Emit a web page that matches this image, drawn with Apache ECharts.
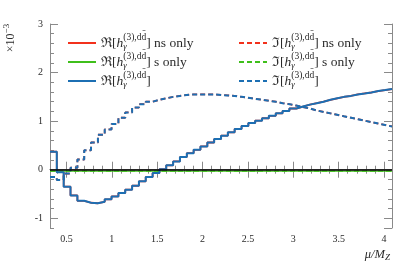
<!DOCTYPE html>
<html><head><meta charset="utf-8">
<script src="https://cdn.jsdelivr.net/npm/echarts@6/dist/echarts.min.js"></script>
<style>html,body{margin:0;padding:0;background:#fff}#c{width:405px;height:263px}</style>
</head><body><div id="c"></div>
<script>
// bin edges of mu/M_Z (50 bins)
const binEdges = [0.319,0.394,0.470,0.545,0.621,0.696,0.771,0.847,0.922,0.997,
  1.073,1.148,1.224,1.299,1.374,1.450,1.525,1.600,1.676,1.751,
  1.827,1.902,1.977,2.053,2.128,2.204,2.279,2.354,2.430,2.505,
  2.580,2.656,2.731,2.807,2.882,2.957,3.033,3.108,3.183,3.259,
  3.334,3.410,3.485,3.560,3.636,3.711,3.787,3.862,3.937,4.013,4.088];

// values in units of 1e-3, one per bin
const reTotal = [0.37,-0.05,-0.35,-0.53,-0.64,-0.68,-0.69,-0.66,-0.61,-0.55,
  -0.48,-0.41,-0.33,-0.24,-0.15,-0.07,0.01,0.09,0.17,0.26,
  0.34,0.41,0.48,0.56,0.63,0.70,0.77,0.84,0.90,0.96,
  1.01,1.06,1.11,1.16,1.21,1.26,1.30,1.34,1.37,1.40,
  1.44,1.47,1.50,1.52,1.55,1.57,1.59,1.62,1.64,1.66];
const reNsOnly = [0.37,-0.05,-0.35,-0.53,-0.64,-0.68,-0.69,-0.66,-0.61,-0.55,
  -0.48,-0.41,-0.33,-0.24,-0.15,-0.07,0.01,0.09,0.17,0.26,
  0.34,0.41,0.48,0.56,0.63,0.70,0.77,0.84,0.90,0.96,
  1.01,1.06,1.11,1.16,1.21,1.26,1.30,1.34,1.37,1.40,
  1.44,1.47,1.50,1.52,1.55,1.57,1.59,1.62,1.64,1.66];
const reSOnly = [-0.03,-0.03,-0.03,-0.03,-0.03,-0.03,-0.03,-0.03,-0.03,-0.03,
  -0.03,-0.03,-0.03,-0.03,-0.03,-0.03,-0.03,-0.03,-0.03,-0.03,
  -0.03,-0.03,-0.03,-0.03,-0.03,-0.03,-0.03,-0.03,-0.03,-0.03,
  -0.03,-0.03,-0.03,-0.03,-0.03,-0.03,-0.03,-0.03,-0.03,-0.03,
  -0.03,-0.03,-0.03,-0.03,-0.03,-0.03,-0.03,-0.03,-0.03,-0.03];
const imTotal = [-0.15,-0.21,-0.08,0.04,0.21,0.40,0.56,0.72,0.83,0.94,
  1.07,1.18,1.28,1.35,1.40,1.44,1.47,1.50,1.52,1.54,
  1.55,1.55,1.55,1.55,1.54,1.53,1.52,1.50,1.48,1.46,
  1.44,1.42,1.40,1.37,1.35,1.32,1.29,1.26,1.22,1.19,
  1.16,1.13,1.10,1.07,1.04,1.01,0.98,0.95,0.92,0.89];
const imNsOnly = [-0.15,-0.21,-0.08,0.04,0.21,0.40,0.56,0.72,0.83,0.94,
  1.07,1.18,1.28,1.35,1.40,1.44,1.47,1.50,1.52,1.54,
  1.55,1.55,1.55,1.55,1.54,1.53,1.52,1.50,1.48,1.46,
  1.44,1.42,1.40,1.37,1.35,1.32,1.29,1.26,1.22,1.19,
  1.16,1.13,1.10,1.07,1.04,1.01,0.98,0.95,0.92,0.89];
const imSOnly = [-0.03,-0.03,-0.03,-0.03,-0.03,-0.03,-0.03,-0.03,-0.03,-0.03,
  -0.03,-0.03,-0.03,-0.03,-0.03,-0.03,-0.03,-0.03,-0.03,-0.03,
  -0.03,-0.03,-0.03,-0.03,-0.03,-0.03,-0.03,-0.03,-0.03,-0.03,
  -0.03,-0.03,-0.03,-0.03,-0.03,-0.03,-0.03,-0.03,-0.03,-0.03,
  -0.03,-0.03,-0.03,-0.03,-0.03,-0.03,-0.03,-0.03,-0.03,-0.03];

const legendLabels = {
  'Re ns': '{n|ℜ[}{i|h}{sub|γ}{sup|(3),dd̄}{n|] ns only}',
  'Re s':  '{n|ℜ[}{i|h}{sub|γ}{sup|(3),dd̄}{n|] s only}',
  'Re':    '{n|ℜ[}{i|h}{sub|γ}{sup|(3),dd̄}{n|]}',
  'Im ns': '{n|ℑ[}{i|h}{sub|γ}{sup|(3),dd̄}{n|] ns only}',
  'Im s':  '{n|ℑ[}{i|h}{sub|γ}{sup|(3),dd̄}{n|] s only}',
  'Im':    '{n|ℑ[}{i|h}{sub|γ}{sup|(3),dd̄}{n|]}'
};

const RED = '#f2311c', GREEN = '#3fbf1b', BLUE = '#1c6fb3';
const SERIF = 'Liberation Serif';
const TXT = '#2a2a2a';

function steps(vals) {
  return binEdges.map((x, i) => [x, vals[Math.min(i, vals.length - 1)]]);
}
function lineSeries(name, vals, color, dashed, width, extra) {
  return Object.assign({
    name: name, type: 'line', data: steps(vals), step: 'end',
    symbol: 'none', showSymbol: false, clip: true,
    xAxisIndex: 0, yAxisIndex: 0,
    color: color,
    itemStyle: { color: color, opacity: 0 },
    lineStyle: { color: color, width: width, type: dashed ? [5, 3] : 'solid' }
  }, extra || {});
}

const XMIN = binEdges[0], XMAX = binEdges[binEdges.length - 1];
const YMIN = -1.2, YMAX = 3;
const AXC = '#8a8a8a';

function xAx(pos, major, labels) {
  return {
    type: 'value', position: pos, min: XMIN, max: XMAX,
    splitNumber: major ? 8 : 38,
    axisLine: { show: major, lineStyle: { color: AXC, width: 1 } },
    axisTick: { show: true, inside: true, length: major ? 8 : 4, lineStyle: { color: AXC, width: 1 } },
    axisLabel: labels ? { show: true, showMinLabel: false, showMaxLabel: false, margin: 6,
      fontFamily: SERIF, fontSize: 10, color: TXT } : { show: false },
    splitLine: { show: false }
  };
}
function yAx(pos, major, labels) {
  return {
    type: 'value', position: pos, min: YMIN, max: YMAX,
    splitNumber: major ? 4 : 21,
    axisLine: { show: major, lineStyle: { color: AXC, width: 1 } },
    axisTick: { show: true, inside: true, length: major ? 8 : 4, lineStyle: { color: AXC, width: 1 } },
    axisLabel: labels ? { show: true, showMinLabel: false, showMaxLabel: true, margin: 7,
      fontFamily: SERIF, fontSize: 10, color: TXT } : { show: false },
    splitLine: { show: false }
  };
}

const richLegend = {
  n: { fontFamily: SERIF, fontSize: 13.5, color: TXT, lineHeight: 14 },
  i: { fontFamily: SERIF, fontSize: 13.5, fontStyle: 'italic', color: TXT, lineHeight: 14 },
  sub: { fontFamily: SERIF, fontSize: 9, fontStyle: 'italic', color: TXT, lineHeight: 14, padding: [7, 0, 0, 0], width: 0 },
  sup: { fontFamily: SERIF, fontSize: 9.5, color: TXT, lineHeight: 14, padding: [0, 0, 12, 0] }
};
function legendCfg(left, names) {
  return {
    data: names, orient: 'vertical', left: left, top: 32, padding: 0,
    itemWidth: 28, itemHeight: 14, itemGap: -3, selectedMode: false,
    itemStyle: { opacity: 0, borderWidth: 0 },
    formatter: n => legendLabels[n],
    textStyle: { fontFamily: SERIF, fontSize: 13.5, color: TXT, rich: richLegend }
  };
}

const chart = echarts.init(document.getElementById('c'), null, { renderer: 'canvas' });
chart.setOption({
  animation: false,
  backgroundColor: '#fff',
  grid: { left: 50, right: 13, top: 24, bottom: 35 },
  xAxis: [xAx('bottom', true, true), xAx('bottom', false, false), xAx('top', true, false), xAx('top', false, false)],
  yAxis: [yAx('left', true, true), yAx('left', false, false), yAx('right', true, false), yAx('right', false, false)],
  legend: [legendCfg(67, ['Re ns', 'Re s', 'Re']), legendCfg(238, ['Im ns', 'Im s', 'Im'])],
  graphic: [{
    type: 'text', x: 11, y: 38, rotation: Math.PI / 2,
    style: {
      text: '{a|×10}{b|−3}', align: 'center', verticalAlign: 'middle',
      rich: {
        a: { fontFamily: SERIF, fontSize: 12, fill: TXT, color: TXT, lineHeight: 16 },
        b: { fontFamily: SERIF, fontSize: 9, fill: TXT, color: TXT, lineHeight: 16, padding: [0, 0, 9, 0] }
      }
    }
  }, {
    type: 'text', x: 390, y: 255,
    style: {
      text: '{a|μ/M}{b|Z}', align: 'right', verticalAlign: 'middle',
      rich: {
        a: { fontFamily: SERIF, fontStyle: 'italic', fontSize: 12.5, fill: TXT, color: TXT, lineHeight: 16 },
        b: { fontFamily: SERIF, fontStyle: 'italic', fontSize: 9, fill: TXT, color: TXT, lineHeight: 16, padding: [6, 0, 0, 0] }
      }
    }
  }],
  series: [
    lineSeries('Re ns', reNsOnly, RED, false, 1.8),
    lineSeries('Im ns', imNsOnly, RED, true, 1.8),
    lineSeries('Re s', reSOnly, GREEN, false, 1.4, {
      markLine: {
        silent: true, symbol: ['none', 'none'], label: { show: false }, z: 5,
        lineStyle: { color: '#000', width: 1.6, type: 'solid' },
        data: [{ yAxis: 0 }]
      }
    }),
    lineSeries('Im s', imSOnly, GREEN, true, 1.4),
    lineSeries('Re', reTotal, BLUE, false, 2),
    lineSeries('Im', imTotal, BLUE, true, 2)
  ]
});
</script></body></html>
